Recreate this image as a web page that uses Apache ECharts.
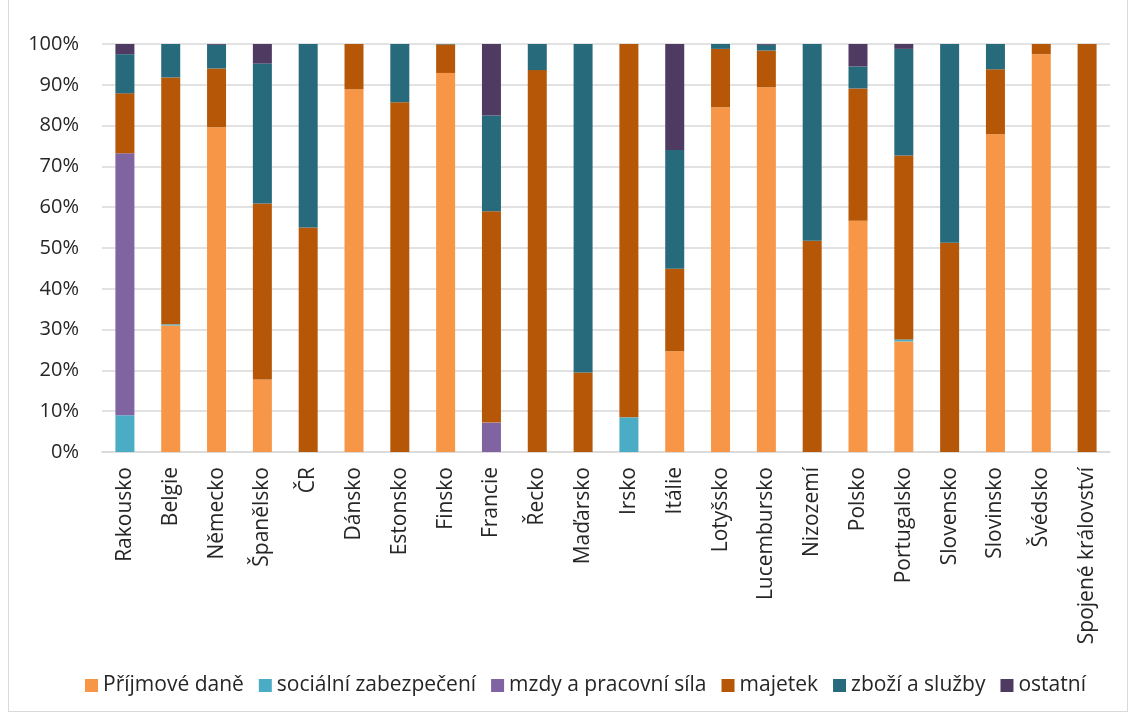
<!DOCTYPE html>
<html><head><meta charset="utf-8">
<script src="https://cdn.jsdelivr.net/npm/echarts@6/dist/echarts.min.js"></script>
<style>html,body{margin:0;padding:0;background:#fff}
#frame{position:absolute;left:8px;top:-2px;width:1120px;height:714px;border:1px solid #d9d9d9;box-sizing:border-box}
#c{position:absolute;left:0;top:0;width:1129px;height:715px}</style>
</head><body><div id="frame"></div><div id="c"></div>
<script>
const categories = ["Rakousko","Belgie","Německo","Španělsko","ČR","Dánsko","Estonsko","Finsko","Francie","Řecko","Maďarsko","Irsko","Itálie","Lotyšsko","Lucembursko","Nizozemí","Polsko","Portugalsko","Slovensko","Slovinsko","Švédsko","Spojené království"];
const seriesNames = ["Příjmové daně","sociální zabezpečení","mzdy a pracovní síla","majetek","zboží a služby","ostatní"];
const prijmove  = [0,31.0,79.6,17.8,0,88.9,0,92.9,0,0,0,0,24.7,84.5,89.4,0,56.7,27.1,0,77.9,97.5,0];
const socialni  = [9.0,0.3,0,0,0,0,0,0,0,0,0,8.5,0,0,0,0,0,0.5,0,0,0,0];
const mzdy      = [64.2,0,0,0,0,0,0,0,7.2,0,0,0,0,0,0,0,0,0,0,0,0,0];
const majetek   = [14.7,60.5,14.4,43.1,55.0,11.1,85.7,7.0,51.8,93.6,19.5,91.5,20.2,14.3,9.0,51.8,32.4,45.1,51.3,15.9,2.5,100];
const zbozi     = [9.6,8.2,5.8,34.3,45.0,0,14.3,0.1,23.5,6.4,80.5,0,29.1,1.2,1.4,48.2,5.4,26.1,48.7,6.2,0,0];
const ostatni   = [2.5,0,0.2,4.8,0,0,0,0,17.5,0,0,0,26.0,0,0.2,0,5.5,1.2,0,0,0,0];
const yTicks = ["0%","10%","20%","30%","40%","50%","60%","70%","80%","90%","100%"];
const colors = ["#F79646","#4BACC6","#8064A2","#B65708","#276A7C","#4F3B62"];
const dataSets = [prijmove,socialni,mzdy,majetek,zbozi,ostatni];

const chart = echarts.init(document.getElementById('c'));
const font = '"Open Sans", sans-serif';
chart.setOption({
  animation:false,
  textStyle:{fontFamily:font},
  grid:{left:102,right:19,top:44,bottom:263,containLabel:false},
  legend:{bottom:14,left:80,itemWidth:13,itemHeight:13,itemGap:15,icon:'rect',
    textStyle:{fontSize:21,color:'#262626',fontFamily:font},data:seriesNames},
  xAxis:{type:'category',data:categories,
    axisLine:{lineStyle:{color:'#d9d9d9',width:1.5}},axisTick:{show:false},
    axisLabel:{rotate:90,fontSize:21,color:'#262626',margin:15,interval:0}},
  yAxis:{type:'value',min:0,max:100,interval:10,
    axisLine:{show:false},axisTick:{show:false},
    splitLine:{lineStyle:{color:'#d9d9d9',width:1.5}},
    axisLabel:{fontSize:20,color:'#262626',margin:23,formatter:v=>yTicks[Math.round(v/10)]}},
  series:seriesNames.map((n,i)=>({name:n,type:'bar',stack:'s',data:dataSets[i],barWidth:19,
    itemStyle:{color:colors[i]}}))
});
</script></body></html>
